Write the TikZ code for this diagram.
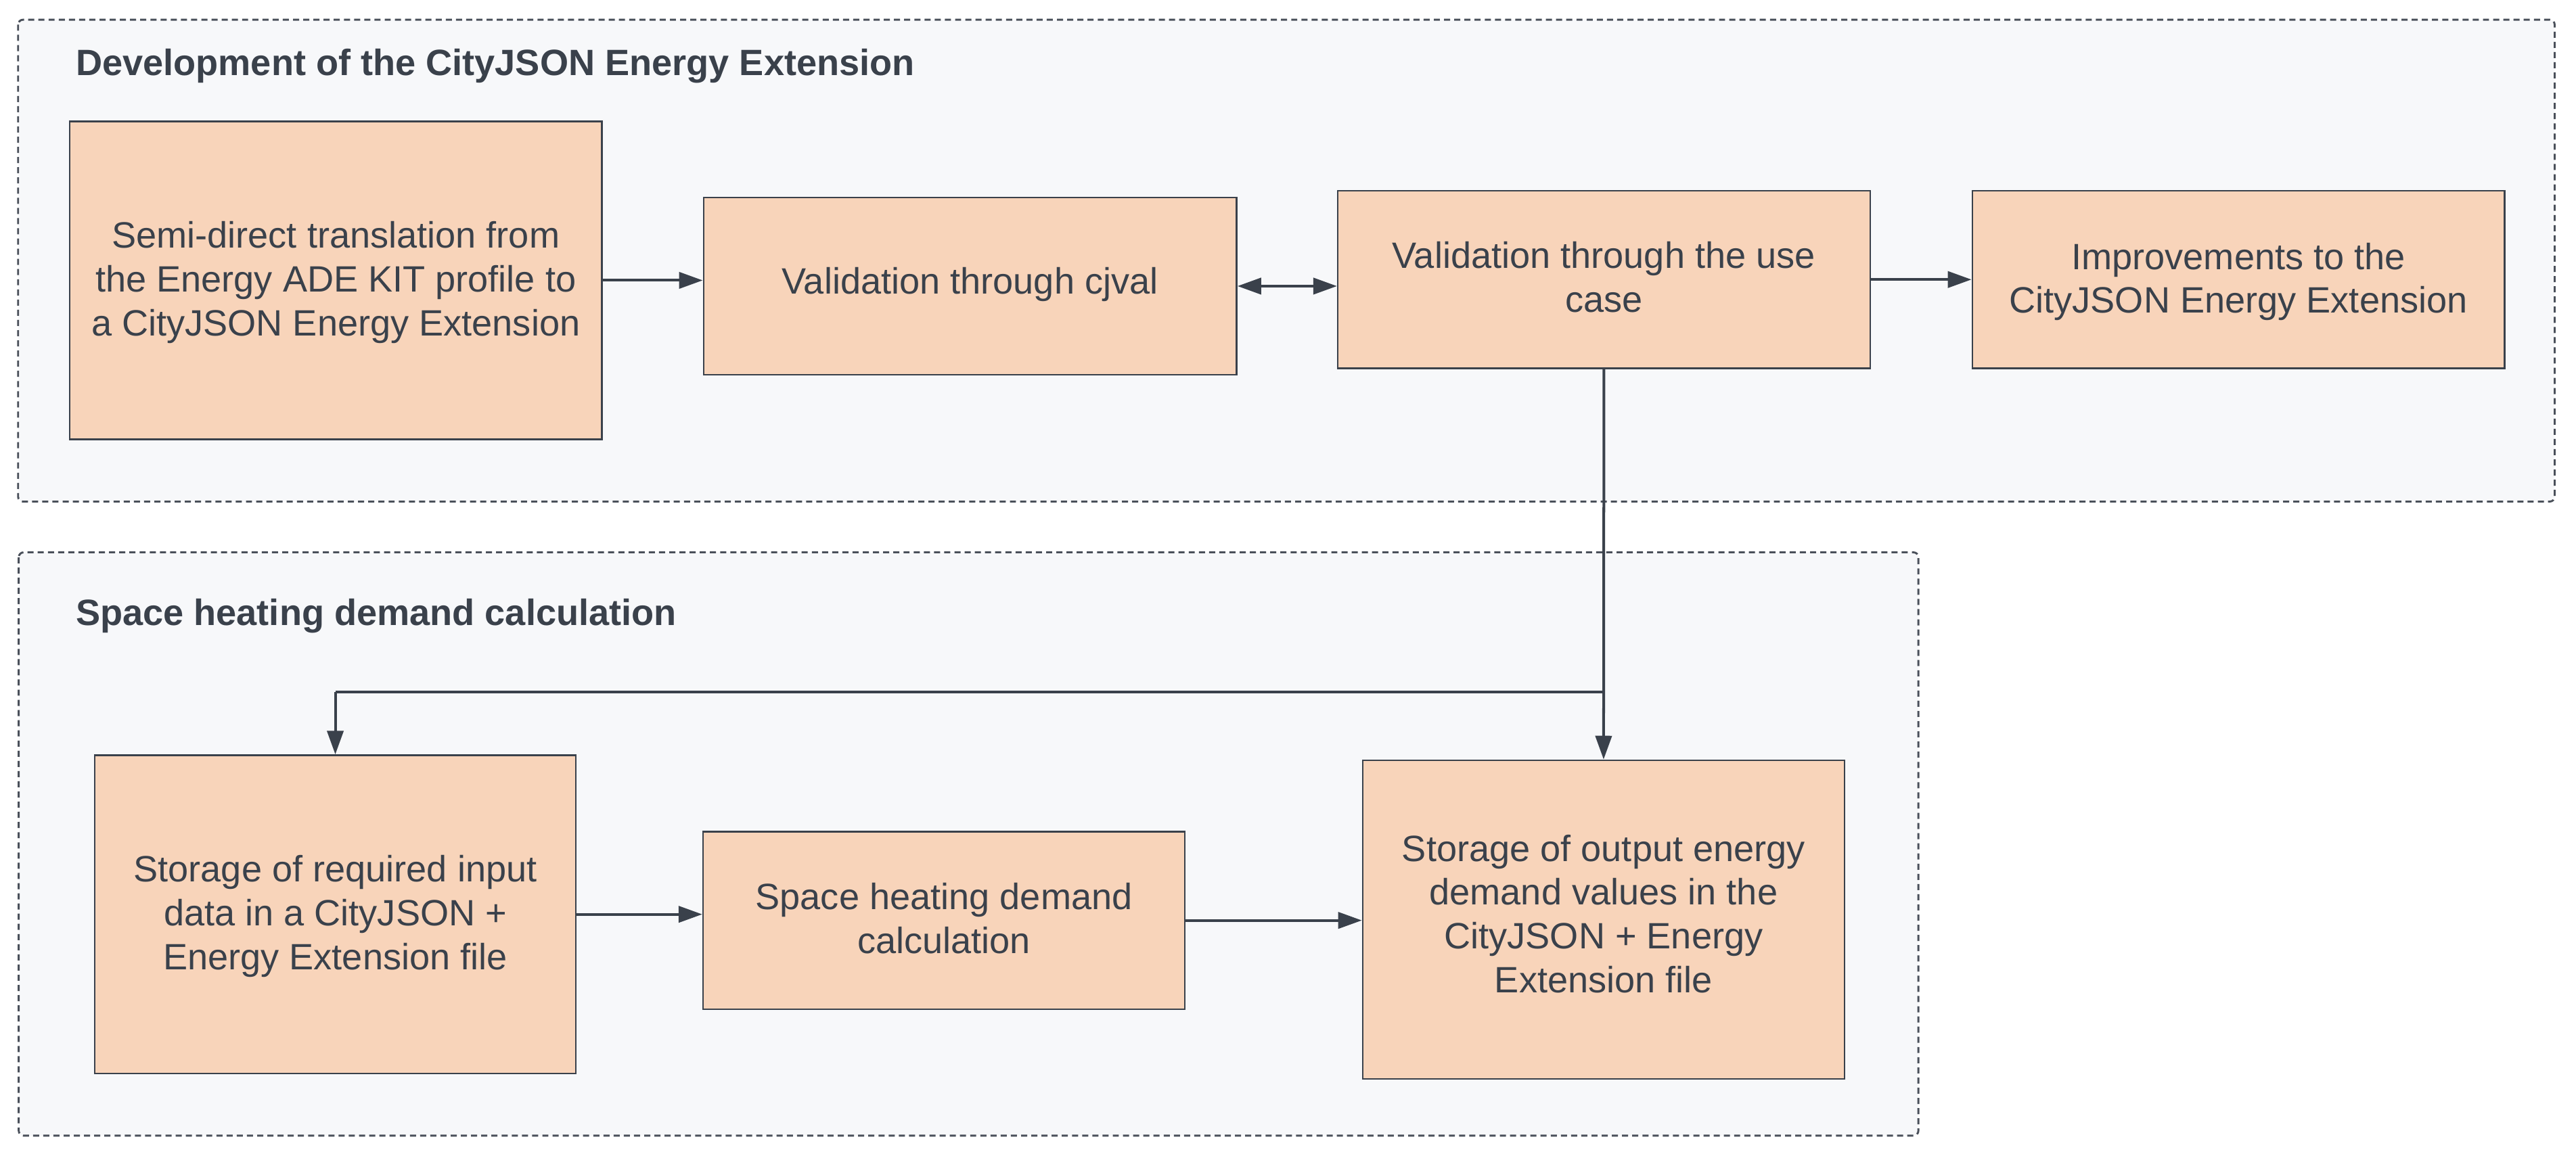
\documentclass[tikz,border=0pt]{standalone}
\usepackage{fontspec}
\setmainfont{Liberation Sans}
\usetikzlibrary{arrows.meta}
\definecolor{boxfill}{HTML}{F8D4BA}
\definecolor{ink}{HTML}{3A414B}
\definecolor{grpfill}{HTML}{F7F8FA}
\definecolor{grpline}{HTML}{4A505A}
\begin{document}
\begin{tikzpicture}[x=1pt,y=-1pt,
  group/.style={draw=grpline, fill=grpfill, line width=1.2pt, dash pattern=on 3.7pt off 2.5pt, rounded corners=3pt},
  proc/.style={draw=ink, fill=boxfill, line width=1pt, align=center, text=ink, font=\fontsize{22.3}{26.7}\selectfont, inner sep=0pt, text depth=2.6pt},
  grptitle/.style={anchor=base west, inner sep=0pt, text=ink, font=\bfseries\fontsize{22.3}{26.7}\selectfont},
  conn/.style={draw=ink, line width=1.65pt, -{Triangle[length=14.4pt,width=9.9pt]}},
  bconn/.style={draw=ink, line width=1.65pt, {Triangle[length=14.4pt,width=9.9pt]}-{Triangle[length=14.4pt,width=9.9pt]}},
  plain/.style={draw=ink, line width=1.65pt}
]
\useasboundingbox (0,0) rectangle (1568,702.6);
% groups
\draw[group] (11,12) rectangle (1555,305.4);
\draw[group] (11.4,336.3) rectangle (1167.7,691.5);
\node[grptitle] (t1) at (46,46) {Development of the CityJSON Energy Extension};
\node[grptitle] (t2) at (46,380.8) {Space heating demand calculation};
% boxes
\node[proc, text depth=2pt, minimum width=324pt, minimum height=193.5pt] (A) at (204.4,170.7) {Semi-direct translation from\\the Energy ADE KIT profile to\\a CityJSON Energy Extension};
\node[proc, text depth=6.8pt, minimum width=324.5pt, minimum height=108pt] (B) at (590.5,174.2) {Validation through cjval};
\node[proc, text depth=3pt, minimum width=324pt, minimum height=108pt] (C) at (976.3,170.2) {Validation through the use\\case};
\node[proc, text depth=2pt, minimum width=324pt, minimum height=108pt] (D) at (1362.5,170.2) {Improvements to the\\CityJSON Energy Extension};
\node[proc, text depth=2.4pt, minimum width=293pt, minimum height=193.7pt] (E) at (204.1,556.7) {Storage of required input\\data in a CityJSON +\\Energy Extension file};
\node[proc, text depth=2.6pt, minimum width=293.3pt, minimum height=108pt] (F) at (574.6,560.4) {Space heating demand\\calculation};
\node[proc, text depth=7.2pt, minimum width=293.3pt, minimum height=194pt] (G) at (976.1,559.9) {Storage of output energy\\demand values in the\\CityJSON + Energy\\Extension file};
% connectors
\coordinate (j) at (976.1,421.2);
\coordinate (k) at (204.1,421.2);
\draw[conn] (A.east) -- (A.east -| B.west);
\draw[bconn] (B.east) -- (B.east -| C.west);
\draw[conn] (C.east) -- (C.east -| D.west);
\draw[conn] (C.south) -- (G.north);
\draw[plain] (j) -- (k);
\draw[conn] (k) -- (E.north);
\draw[conn] (E.east) -- (E.east -| F.west);
\draw[conn] (F.east) -- (F.east -| G.west);
\end{tikzpicture}
\end{document}
